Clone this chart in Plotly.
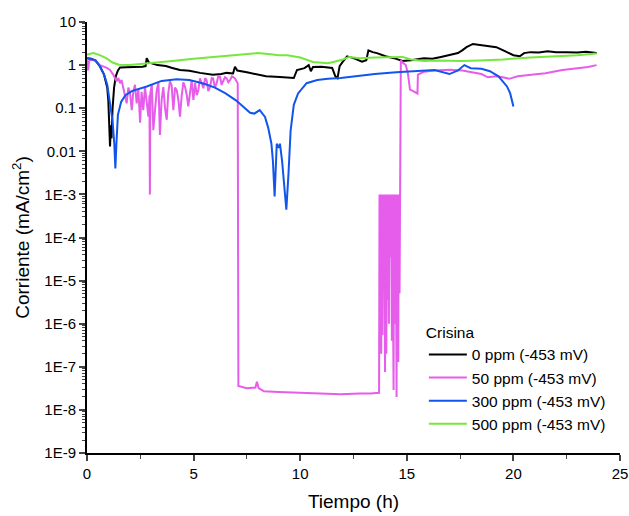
import plotly.graph_objects as go

# ---------------- data ----------------
t_0ppm = [0, 0.2, 0.4, 0.6, 0.8, 0.95, 1.0, 1.05, 1.08, 1.12, 1.15, 1.2, 1.27, 1.35, 1.45, 1.55, 1.8, 2.2, 2.6, 2.75,
          2.8, 2.9, 3.3, 3.7, 4.0, 4.36, 4.8, 5.3, 5.9, 6.3, 6.55, 6.85, 6.94, 7.05, 7.5, 8.0, 8.4, 9.05,
          9.4, 9.7, 9.85, 10.0, 10.2, 10.4, 10.5, 10.6, 11.0, 11.5, 11.65, 11.75, 11.85, 12.0, 12.2,
          12.5, 12.9, 13.1, 13.2, 13.4, 13.6, 14.0, 14.4, 14.8, 15.2, 15.8, 16.2, 16.6, 17.0, 17.4, 17.6,
          17.8, 18.1, 18.5, 18.9, 19.2, 19.6, 20.0, 20.3, 20.5, 20.8, 21.2, 21.6, 22.0, 22.5, 23.0, 23.4, 23.9]
i_0ppm = [1.45, 1.4, 1.25, 0.95, 0.6, 0.3, 0.15, 0.05, 0.013, 0.04, 0.02, 0.1, 0.3, 0.55, 0.75, 0.88, 0.9, 0.9, 0.92, 0.95,
          1.45, 1.15, 1.0, 0.95, 0.86, 0.77, 0.74, 0.66, 0.6, 0.62, 0.66, 0.64, 0.92, 0.75, 0.68, 0.6, 0.55, 0.53,
          0.52, 0.5, 0.77, 0.8, 0.85, 1.0, 0.72, 0.9, 0.92, 0.86, 0.55, 0.5, 0.95, 1.2, 1.6,
          1.45, 1.2, 1.3, 2.2, 2.0, 1.9, 1.6, 1.45, 1.25, 1.3, 1.45, 1.4, 1.55, 1.7, 1.9, 2.2,
          2.6, 3.1, 2.9, 2.7, 2.6, 2.1, 1.7, 1.6, 1.9, 2.0, 1.95, 2.1, 2.0, 2.0, 1.95, 2.05, 1.9]

t_50ppm = [0, 0.05, 0.1, 0.14, 0.3, 0.6, 0.93, 1.08, 1.24, 1.39, 1.47, 1.55, 1.62, 1.70, 1.78, 1.86, 1.94, 2.02,
           2.10, 2.17, 2.25, 2.33, 2.41, 2.49, 2.56, 2.64, 2.72, 2.80, 2.88, 2.93, 2.95, 2.97, 3.04, 3.11, 3.19,
           3.27, 3.35, 3.42, 3.50, 3.58, 3.66, 3.74, 3.81, 3.89, 3.97, 4.05, 4.13, 4.21, 4.29, 4.36, 4.44,
           4.52, 4.60, 4.68, 4.75, 4.83, 4.91, 4.99, 5.07, 5.15, 5.22, 5.30, 5.38, 5.46, 5.54, 5.61, 5.69,
           5.77, 5.85, 5.92, 6.00, 6.08, 6.16, 6.24, 6.31, 6.39, 6.47, 6.55, 6.63, 6.71, 6.80, 6.94, 7.07,
           7.1, 7.5, 7.9, 7.97, 8.05, 8.3, 9.0, 10.0, 11.0, 11.9, 12.8, 13.3, 13.70,
           13.72, 13.76, 13.78, 13.80, 13.82, 13.86, 13.88, 13.92, 13.94, 13.98, 14.00, 14.04, 14.06,
           14.10, 14.12, 14.16, 14.18, 14.24, 14.26, 14.30, 14.32, 14.38, 14.40, 14.46, 14.48, 14.52,
           14.54, 14.60, 14.62, 14.66, 14.68, 14.72,
           14.8, 14.95, 15.05, 15.15, 15.3, 15.5, 15.52, 15.8, 16.3, 17.0, 17.6, 18.0, 18.5, 18.8, 19.2,
           19.5, 19.8, 20.2, 20.8, 21.5, 22.3, 23.0, 23.5, 23.9]
i_50ppm = [1.3, 0.75, 1.25, 1.3, 1.35, 1.0, 0.86, 0.77, 0.59, 0.42, 0.5, 0.38, 0.45, 0.31, 0.2, 0.13, 0.3, 0.22,
           0.09, 0.24, 0.35, 0.13, 0.28, 0.046, 0.24, 0.09, 0.31, 0.15, 0.064, 0.2, 0.001, 0.22, 0.35, 0.031, 0.12,
           0.26, 0.4, 0.024, 0.155, 0.31, 0.1, 0.054, 0.22, 0.42, 0.34, 0.09, 0.3, 0.26, 0.15, 0.064, 0.19,
           0.4, 0.31, 0.2, 0.11, 0.26, 0.45, 0.155, 0.38, 0.2, 0.26, 0.49, 0.35, 0.29, 0.5, 0.45, 0.25,
           0.31, 0.5, 0.49, 0.3, 0.38, 0.55, 0.54, 0.35, 0.41, 0.52, 0.49, 0.4, 0.45, 0.55, 0.49, 0.38,
           3.6e-8, 3.2e-8, 3.3e-8, 4.5e-8, 3.2e-8, 2.7e-8, 2.6e-8, 2.5e-8, 2.4e-8, 2.3e-8, 2.4e-8, 2.4e-8, 2.5e-8,
           1e-3, 8e-7, 1e-3, 2e-7, 1e-3, 5.5e-7, 1e-3, 1e-5, 1e-3, 7.6e-8, 1e-3, 2e-7, 1e-3,
           3.5e-6, 1e-3, 1e-6, 1e-3, 3.5e-5, 1e-3, 4e-7, 1e-3, 2.9e-8, 1e-3, 1e-6, 1e-3, 2e-8,
           1e-3, 1.3e-7, 1e-3, 5e-6, 1e-3, 1.3,
           1.15, 1.0, 0.65, 0.27, 0.25, 0.22, 0.6, 0.7, 0.75, 0.78, 0.75, 0.68, 0.62, 0.52, 0.55,
           0.52, 0.48, 0.55, 0.6, 0.65, 0.77, 0.85, 0.9, 1.0]

t_300ppm = [0, 0.2, 0.4, 0.6, 0.8, 0.95, 1.1, 1.2, 1.28, 1.33, 1.38, 1.45, 1.6, 1.8, 2.1, 2.8, 3.5, 4.2, 4.8,
            5.5, 6.0, 6.5, 7.0, 7.4, 7.65, 7.85, 8.1, 8.35, 8.5, 8.65, 8.72, 8.8, 8.85, 8.9, 9.0, 9.05, 9.15,
            9.25, 9.35, 9.45, 9.55, 9.7, 9.9, 10.3, 10.8, 11.3, 11.9, 12.6, 13.5, 14.5, 15.5, 16.3, 17.0, 17.4,
            17.7, 18.0, 18.5, 18.9, 19.3, 19.5, 19.7, 19.85, 20.0]
i_300ppm = [1.45, 1.4, 1.3, 0.95, 0.6, 0.35, 0.12, 0.05, 0.015, 0.004, 0.015, 0.07, 0.14, 0.2, 0.25, 0.32, 0.43,
            0.47, 0.45, 0.37, 0.3, 0.22, 0.15, 0.1, 0.078, 0.075, 0.09, 0.063, 0.035, 0.015, 0.006, 0.0009, 0.003,
            0.015, 0.012, 0.015, 0.006, 0.0015, 0.00044, 0.003, 0.03, 0.12, 0.22, 0.38, 0.45, 0.48, 0.5, 0.55, 0.62,
            0.68, 0.74, 0.77, 0.62, 0.75, 1.0, 0.85, 0.82, 0.72, 0.55, 0.42, 0.32, 0.22, 0.11]

t_500ppm = [0, 0.3, 0.6, 0.9, 1.2, 1.5, 2.0, 2.5, 3.0, 4.0, 5.0, 6.0, 7.0, 8.0, 8.5, 9.0, 9.4, 10.0, 10.6, 11.0,
            11.3, 11.6, 12.0, 12.3, 12.8, 13.5, 14.3, 14.8, 15.2, 15.8, 16.5, 17.5, 18.4, 19.5, 20.8, 22.0,
            23.0, 23.9]
i_500ppm = [1.75, 1.9, 1.7, 1.45, 1.15, 1.02, 1.0, 1.05, 1.1, 1.25, 1.4, 1.55, 1.7, 1.9, 1.8, 1.7, 1.7, 1.5, 1.18,
            1.15, 1.1, 1.2, 1.35, 1.55, 1.45, 1.5, 1.55, 1.55, 1.35, 1.25, 1.28, 1.25, 1.28, 1.35, 1.5, 1.6,
            1.7, 1.85]

series_names = ["0 ppm (-453 mV)", "50 ppm (-453 mV)", "300 ppm (-453 mV)", "500 ppm (-453 mV)"]
series_colors = ["#000000", "#E65CEB", "#1255EC", "#74E83C"]

y_tickvals = [1e-9, 1e-8, 1e-7, 1e-6, 1e-5, 1e-4, 1e-3, 1e-2, 1e-1, 1, 10]
y_ticktext = ["1E-9", "1E-8", "1E-7", "1E-6", "1E-5", "1E-4", "1E-3", "0.01", "0.1", "1", "10"]
x_tickvals = [0, 5, 10, 15, 20, 25]

# ---------------- figure ----------------
fig = go.Figure()
for t, i, name, col in zip([t_0ppm, t_50ppm, t_300ppm, t_500ppm],
                           [i_0ppm, i_50ppm, i_300ppm, i_500ppm],
                           series_names, series_colors):
    fig.add_trace(go.Scatter(x=t, y=i, mode="lines", name=name,
                             line=dict(color=col, width=2)))

y_minor = [k * 10.0 ** e for e in range(-9, 1) for k in range(2, 10)]

font = "Liberation Sans, Arial, sans-serif"
fig.update_layout(
    width=629, height=516,
    margin=dict(l=87, r=9, t=22, b=63),
    plot_bgcolor="white", paper_bgcolor="white",
    font=dict(family=font, color="black", size=15),
    showlegend=True,
    legend=dict(
        title=dict(text="Crisina", font=dict(size=15.5)),
        font=dict(size=15.5),
        x=0.632, y=0.314, xanchor="left", yanchor="top",
        itemwidth=38,
        bgcolor="rgba(0,0,0,0)", borderwidth=0, tracegroupgap=0,
    ),
    xaxis=dict(
        range=[0, 25], tickvals=x_tickvals, ticks="outside", ticklen=6, tickwidth=1.5,
        showline=True, linecolor="black", linewidth=2, showgrid=False, zeroline=False,
        tickfont=dict(size=15), automargin=False, ticklabeloverflow="allow",
        minor=dict(tickvals=[2.5, 7.5, 12.5, 17.5, 22.5], ticks="outside", ticklen=4, tickwidth=1.2, showgrid=False),
        title=dict(text="Tiempo (h)", font=dict(size=19), standoff=14),
    ),
    yaxis=dict(
        type="log", range=[-9, 1], tickvals=y_tickvals, ticktext=y_ticktext,
        ticks="outside", ticklen=6, tickwidth=1.5,
        showline=True, linecolor="black", linewidth=2, showgrid=False, zeroline=False,
        tickfont=dict(size=15), automargin=False, ticklabeloverflow="allow",
        minor=dict(tickvals=y_minor, ticks="outside", ticklen=3, tickwidth=1, showgrid=False),
        title=dict(text="Corriente (mA/cm<sup>2</sup>)", font=dict(size=19), standoff=10),
    ),
)

fig.write_html(
    "out.html",
    config={"displayModeBar": False},
    post_script="document.body.style.margin='0px';document.body.style.overflow='hidden';",
)
